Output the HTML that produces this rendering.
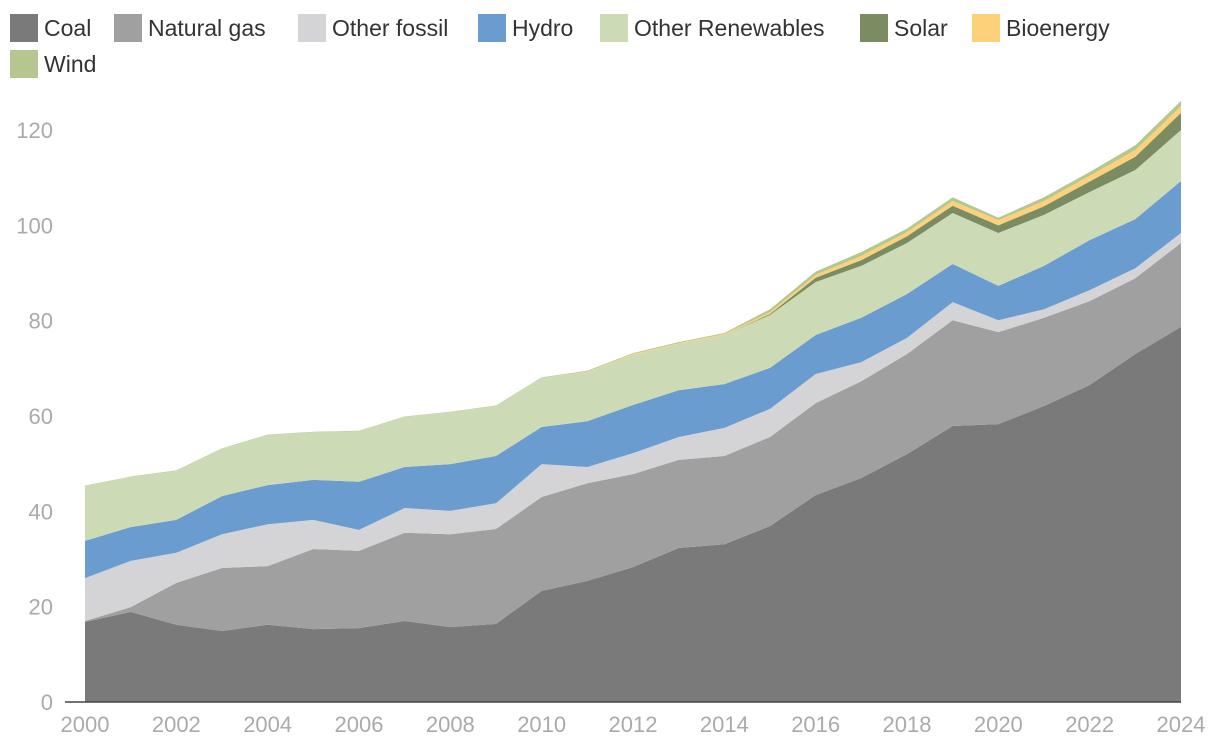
<!DOCTYPE html>
<html><head><meta charset="utf-8">
<style>
body{margin:0;background:#fff;font-family:"Liberation Sans",sans-serif;}
#wrap{position:relative;width:1220px;height:754px;overflow:hidden;}
.leg{position:absolute;height:28px;display:flex;align-items:center;font-size:23px;color:#333;}
.sw{width:28px;height:28px;margin-right:6px;}
</style></head><body>
<div id="wrap">
<div class="leg" style="left:10px;top:14px"><div class="sw" style="background:#7a7a7a"></div>Coal</div>
<div class="leg" style="left:114px;top:14px"><div class="sw" style="background:#a0a0a0"></div>Natural gas</div>
<div class="leg" style="left:298px;top:14px"><div class="sw" style="background:#d4d4d6"></div>Other fossil</div>
<div class="leg" style="left:478px;top:14px"><div class="sw" style="background:#6a9ccf"></div>Hydro</div>
<div class="leg" style="left:600px;top:14px"><div class="sw" style="background:#ccdab5"></div>Other Renewables</div>
<div class="leg" style="left:860px;top:14px"><div class="sw" style="background:#7b8c63"></div>Solar</div>
<div class="leg" style="left:972px;top:14px"><div class="sw" style="background:#fdd07a"></div>Bioenergy</div>
<div class="leg" style="left:10px;top:50px"><div class="sw" style="background:#b5c78f"></div>Wind</div>
<svg id="svg" width="1220" height="754" style="position:absolute;left:0;top:0"></svg>
</div>
<script>
const years=[2000,2001,2002,2003,2004,2005,2006,2007,2008,2009,2010,2011,2012,2013,2014,2015,2016,2017,2018,2019,2020,2021,2022,2023,2024];
const coal=[16.8,18.9,16.2,14.9,16.2,15.3,15.5,17.0,15.7,16.4,23.3,25.4,28.3,32.3,33.1,36.9,43.4,47.0,52.0,57.9,58.3,62.1,66.5,73.0,78.7];
const gas=[0.2,1.0,8.8,13.2,12.3,16.8,16.2,18.5,19.5,19.9,19.7,20.5,19.5,18.5,18.5,18.7,19.3,20.3,21.0,22.2,19.3,18.5,17.6,15.9,17.6];
const otherFossil=[9.0,9.7,6.3,7.1,8.8,6.1,4.4,5.2,4.9,5.4,6.9,3.4,4.4,4.8,5.9,5.9,6.1,4.0,3.4,3.8,2.5,1.8,2.3,2.1,2.1];
const hydro=[7.8,7.1,6.9,8.0,8.2,8.4,10.1,8.6,9.8,9.9,7.8,9.6,10.1,9.8,9.2,8.6,8.2,9.3,9.2,8.0,7.2,9.1,10.5,10.3,10.9];
const otherRen=[11.5,10.5,10.3,9.9,10.5,10.0,10.6,10.5,10.9,10.5,10.3,10.3,10.5,9.7,10.3,11.1,11.1,10.9,10.7,10.7,11.1,10.7,10.1,10.3,10.7];
const solar=[0,0,0,0,0,0,0,0,0,0,0,0,0,0,0,0.2,0.9,1.2,1.4,1.5,1.6,1.8,2.2,2.8,3.6];
const bio=[0,0,0,0,0,0,0,0,0,0,0,0.1,0.2,0.2,0.2,0.4,0.6,0.9,0.9,1.0,1.1,1.1,1.2,1.4,1.4];
const wind=[0.1,0.1,0.1,0.1,0.1,0.1,0.1,0.1,0.1,0.1,0.1,0.2,0.2,0.2,0.2,0.6,0.7,0.8,0.7,0.8,0.5,0.8,0.8,1.0,1.1];
const yTicks=[0,20,40,60,80,100,120];
const xTicks=[2000,2002,2004,2006,2008,2010,2012,2014,2016,2018,2020,2022,2024];
const series=[["coal",coal,"#7a7a7a"],["natural-gas",gas,"#a0a0a0"],["other-fossil",otherFossil,"#d4d4d6"],["hydro",hydro,"#6a9ccf"],["other-renewables",otherRen,"#ccdab5"],["solar",solar,"#7b8c63"],["bioenergy",bio,"#fdd07a"],["wind",wind,"#b5c78f"]];
const NS="http://www.w3.org/2000/svg";
const svg=document.getElementById('svg');
const X=v=>85+(v-2000)*(1181-85)/24;
const Y=v=>702-v*(702-130)/120;
let base=years.map(()=>0);
series.forEach(([n,vals,c])=>{
  const top=base.map((b,i)=>b+vals[i]);
  let d="M"+years.map((y,i)=>X(y)+","+Y(top[i])).join("L");
  for(let i=years.length-1;i>=0;i--)d+="L"+X(years[i])+","+Y(base[i]);
  d+="Z";
  const p=document.createElementNS(NS,"path");
  p.setAttribute("d",d);p.setAttribute("fill",c);
  
  
  svg.appendChild(p);
  base=top;
});
yTicks.forEach(t=>{
  const tx=document.createElementNS(NS,"text");
  tx.setAttribute("x",53);tx.setAttribute("y",Y(t)+8);tx.setAttribute("text-anchor","end");
  tx.setAttribute("font-size","22");tx.setAttribute("fill","#aaaaaa");tx.textContent=t;
  
  
  svg.appendChild(tx);
});
xTicks.forEach(t=>{
  const tx=document.createElementNS(NS,"text");
  tx.setAttribute("x",X(t));tx.setAttribute("y",732);tx.setAttribute("text-anchor","middle");
  tx.setAttribute("font-size","22");tx.setAttribute("fill","#aaaaaa");tx.textContent=t;
  
  
  svg.appendChild(tx);
});
const ax=document.createElementNS(NS,"line");
ax.setAttribute("x1",65);ax.setAttribute("x2",1181);ax.setAttribute("y1",702);ax.setAttribute("y2",702);
ax.setAttribute("stroke","#444");ax.setAttribute("stroke-width","1.5");


svg.appendChild(ax);
</script>
</body></html>
